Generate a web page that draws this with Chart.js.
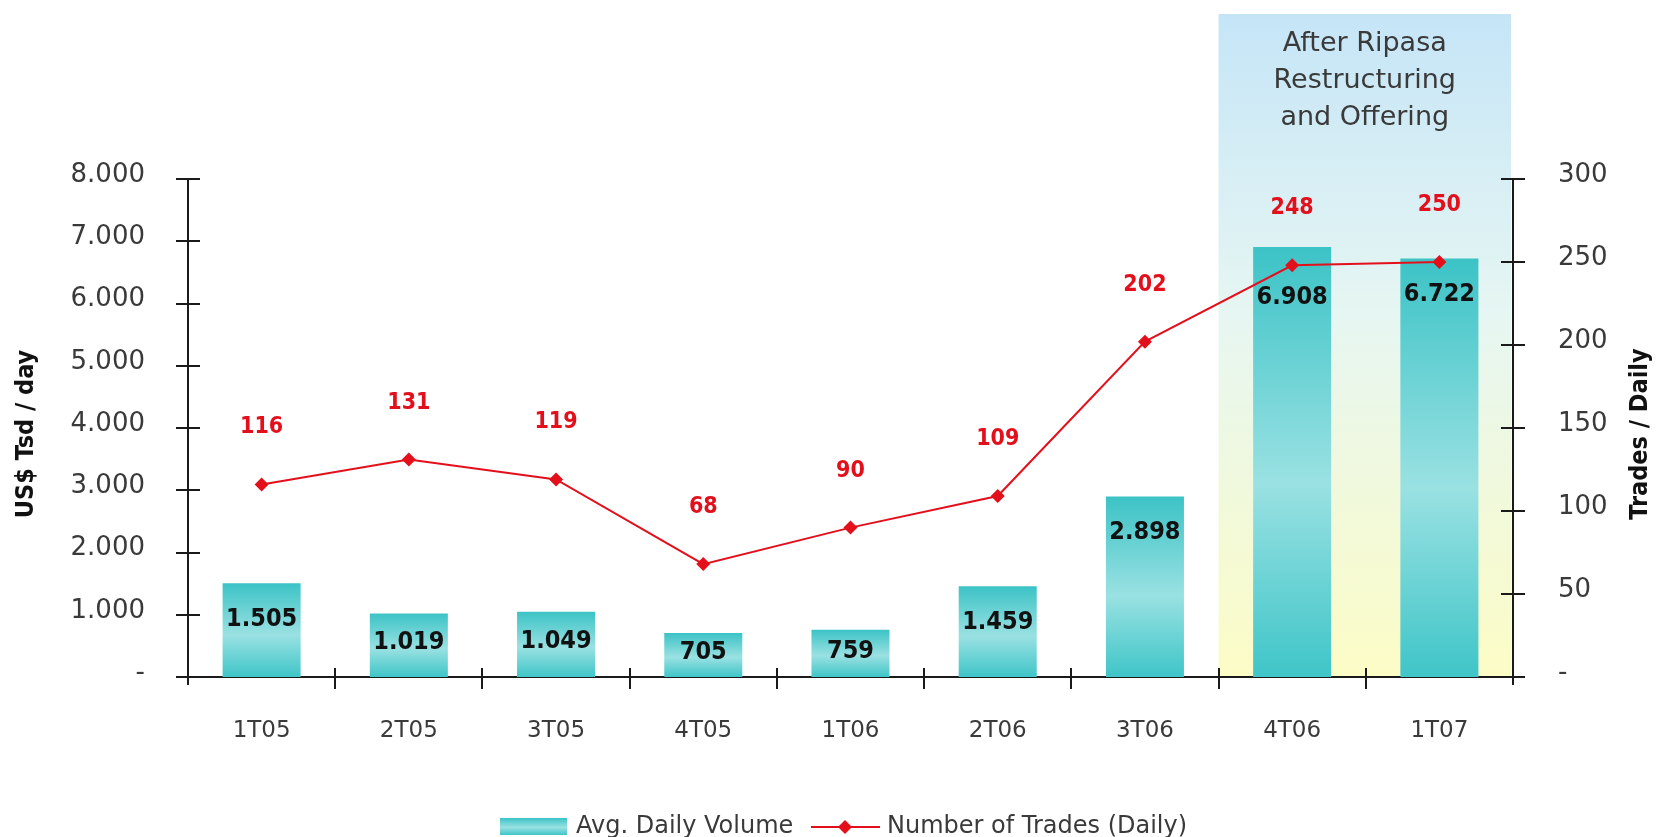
<!DOCTYPE html>
<html>
<head>
<meta charset="utf-8">
<script src="https://cdn.jsdelivr.net/npm/chart.js@4.4.1/dist/chart.umd.min.js"></script>
<style>
  html, body { margin: 0; padding: 0; background: #fff; }
  #wrap { width: 1656px; height: 837px; }
</style>
</head>
<body>
<div id="wrap"><canvas id="chart" width="1656" height="837"></canvas></div>
<script>
const quarters = ["1T05", "2T05", "3T05", "4T05", "1T06", "2T06", "3T06", "4T06", "1T07"];
const avgDailyVolume = [1505, 1019, 1049, 705, 759, 1459, 2898, 6908, 6722];
const numberOfTrades = [116, 131, 119, 68, 90, 109, 202, 248, 250];
const volumeTicks = [0, 1000, 2000, 3000, 4000, 5000, 6000, 7000, 8000];
const tradeTicks = [0, 50, 100, 150, 200, 250, 300];
const highlightFrom = "4T06";
const highlightText = ["After Ripasa", "Restructuring", "and Offering"];

const AXIS = "#1a1a1a";
const TEXT = "#3a3a3a";
const RED = "#e3101c";

// 1.505 style numbers: dot as thousands separator, dash for zero
function fmt(v) {
  if (v === 0) return "-";
  return String(v).replace(/\B(?=(\d{3})+(?!\d))/g, ".");
}

function tealGradient(ctx, top, bottom) {
  const g = ctx.createLinearGradient(0, top, 0, bottom);
  g.addColorStop(0, "#3cc3c6");
  g.addColorStop(0.55, "#9ae1e2");
  g.addColorStop(1, "#3fc5c8");
  return g;
}

const decorations = {
  id: "decorations",
  beforeDraw(chart) {
    const { ctx, chartArea, scales } = chart;
    ctx.save();
    ctx.fillStyle = "#fff";
    ctx.fillRect(0, 0, chart.width, chart.height);

    // shaded period box behind the last quarters
    const x = scales.x;
    const half = (x.getPixelForValue(1) - x.getPixelForValue(0)) / 2;
    const left = x.getPixelForValue(quarters.indexOf(highlightFrom)) - half;
    const right = chartArea.right - 2;
    const top = 14;
    const g = ctx.createLinearGradient(0, top, 0, chartArea.bottom);
    g.addColorStop(0, "#c5e5f7");
    g.addColorStop(0.45, "#e6f6f2");
    g.addColorStop(1, "#fcfcc6");
    ctx.fillStyle = g;
    ctx.fillRect(left, top, right - left, chartArea.bottom - top);

    ctx.fillStyle = TEXT;
    ctx.font = "27px 'DejaVu Sans'";
    ctx.textAlign = "center";
    ctx.textBaseline = "middle";
    highlightText.forEach((line, i) => {
      ctx.fillText(line, (left + right) / 2, 44 + i * 37);
    });
    ctx.restore();
  },
  afterDatasetsDraw(chart) {
    const { ctx } = chart;
    const points = chart.getDatasetMeta(1).data;
    ctx.save();
    ctx.textAlign = "center";
    ctx.textBaseline = "middle";

    // volume labels inside the bars, pushed below the line marker when it sits on the bar top
    ctx.font = "bold 25px 'DejaVu Sans Condensed'";
    ctx.fillStyle = "#111";
    chart.getDatasetMeta(0).data.forEach((bar, i) => {
      const h = bar.base - bar.y;
      let y = bar.y + Math.min(36, h * 0.45);
      const pt = points[i];
      if (pt && pt.y > bar.y - 12 && pt.y < y + 20) y = pt.y + 32;
      ctx.fillText(fmt(avgDailyVolume[i]), bar.x, y);
    });

    // trade counts above the points
    ctx.font = "bold 23px 'DejaVu Sans Condensed'";
    ctx.fillStyle = RED;
    points.forEach((pt, i) => {
      ctx.fillText(String(numberOfTrades[i]), pt.x, pt.y - 57);
    });
    ctx.restore();
  },
  afterDraw(chart) {
    const { ctx, chartArea, scales } = chart;
    ctx.save();
    ctx.strokeStyle = AXIS;
    ctx.lineWidth = 2;

    // tick marks crossing the axes
    const step = (chartArea.right - chartArea.left) / quarters.length;
    ctx.beginPath();
    for (let i = 1; i < quarters.length; i++) {
      const px = Math.round(chartArea.left + i * step);
      ctx.moveTo(px, chartArea.bottom - 9);
      ctx.lineTo(px, chartArea.bottom + 12);
    }
    [scales.y, scales.y1].forEach(s => {
      const ax = s.position === "left" ? chartArea.left : chartArea.right;
      s.ticks.forEach((t, i) => {
        const py = Math.round(s.getPixelForTick(i));
        ctx.moveTo(ax - 12, py);
        ctx.lineTo(ax + 12, py);
      });
      ctx.moveTo(ax, chartArea.top);
      ctx.lineTo(ax, chartArea.bottom + 8);
    });
    ctx.stroke();

    // axis titles, both reading bottom to top
    ctx.fillStyle = "#111";
    ctx.font = "bold 25px 'DejaVu Sans Condensed'";
    ctx.textAlign = "center";
    ctx.textBaseline = "middle";
    [[26, "US$ Tsd / day"], [1640, "Trades / Daily"]].forEach(([tx, label]) => {
      ctx.save();
      ctx.translate(tx, 434);
      ctx.rotate(-Math.PI / 2);
      ctx.fillText(label, 0, 0);
      ctx.restore();
    });

    // legend
    const ly = 827;
    ctx.fillStyle = tealGradient(ctx, ly - 9, ly + 8);
    ctx.fillRect(500, ly - 9, 67, 17);
    ctx.fillStyle = TEXT;
    ctx.font = "24px 'DejaVu Sans'";
    ctx.textAlign = "left";
    ctx.fillText(chart.data.datasets[0].label, 576, ly);
    ctx.strokeStyle = RED;
    ctx.lineWidth = 2;
    ctx.beginPath();
    ctx.moveTo(811, ly);
    ctx.lineTo(880, ly);
    ctx.stroke();
    ctx.fillStyle = RED;
    ctx.beginPath();
    ctx.moveTo(845, ly - 7);
    ctx.lineTo(852, ly);
    ctx.lineTo(845, ly + 7);
    ctx.lineTo(838, ly);
    ctx.closePath();
    ctx.fill();
    ctx.fillStyle = TEXT;
    ctx.fillText(chart.data.datasets[1].label, 887, ly);
    ctx.restore();
  }
};

new Chart(document.getElementById("chart"), {
  data: {
    labels: quarters,
    datasets: [
      {
        type: "bar",
        label: "Avg. Daily Volume",
        data: avgDailyVolume,
        yAxisID: "y",
        order: 1,
        backgroundColor(c) {
          const s = c.chart.scales.y;
          if (!s || c.raw === undefined) return "#3cc3c6";
          const top = s.getPixelForValue(c.raw);
          const base = s.getPixelForValue(0);
          if (!isFinite(top) || !isFinite(base)) return "#3cc3c6";
          return tealGradient(c.chart.ctx, top, base);
        },
        borderWidth: 0,
        categoryPercentage: 1,
        barPercentage: 0.53
      },
      {
        type: "line",
        label: "Number of Trades (Daily)",
        data: numberOfTrades,
        yAxisID: "y1",
        order: 0,
        borderColor: RED,
        borderWidth: 2,
        backgroundColor: RED,
        pointStyle: "rectRot",
        pointRadius: 7,
        pointBorderWidth: 0,
        tension: 0
      }
    ]
  },
  options: {
    responsive: false,
    animation: false,
    devicePixelRatio: 1,
    layout: { padding: { top: 179, bottom: 60, left: 0, right: 0 } },
    plugins: { legend: { display: false }, tooltip: { enabled: false } },
    scales: {
      x: {
        offset: true,
        grid: { display: false },
        border: { display: true, color: AXIS, width: 2 },
        ticks: { color: TEXT, font: { family: "DejaVu Sans", size: 23 }, padding: 32 },
        afterFit(s) { s.height = 100; }
      },
      y: {
        position: "left",
        min: 0,
        max: 8000,
        afterBuildTicks(s) { s.ticks = volumeTicks.map(v => ({ value: v })); },
        grid: { display: false },
        border: { display: false },
        ticks: { color: TEXT, font: { family: "DejaVu Sans", size: 26 }, padding: 35, labelOffset: -4, callback: v => fmt(v) },
        afterFit(s) { s.width = 188; }
      },
      y1: {
        position: "right",
        min: 0,
        max: 300,
        afterBuildTicks(s) { s.ticks = tradeTicks.map(v => ({ value: v })); },
        grid: { display: false },
        border: { display: false },
        ticks: { color: TEXT, font: { family: "DejaVu Sans", size: 26 }, padding: 37, labelOffset: -4, callback: v => fmt(v) },
        afterFit(s) { s.width = 143; }
      }
    }
  },
  plugins: [decorations]
});
</script>
</body>
</html>
